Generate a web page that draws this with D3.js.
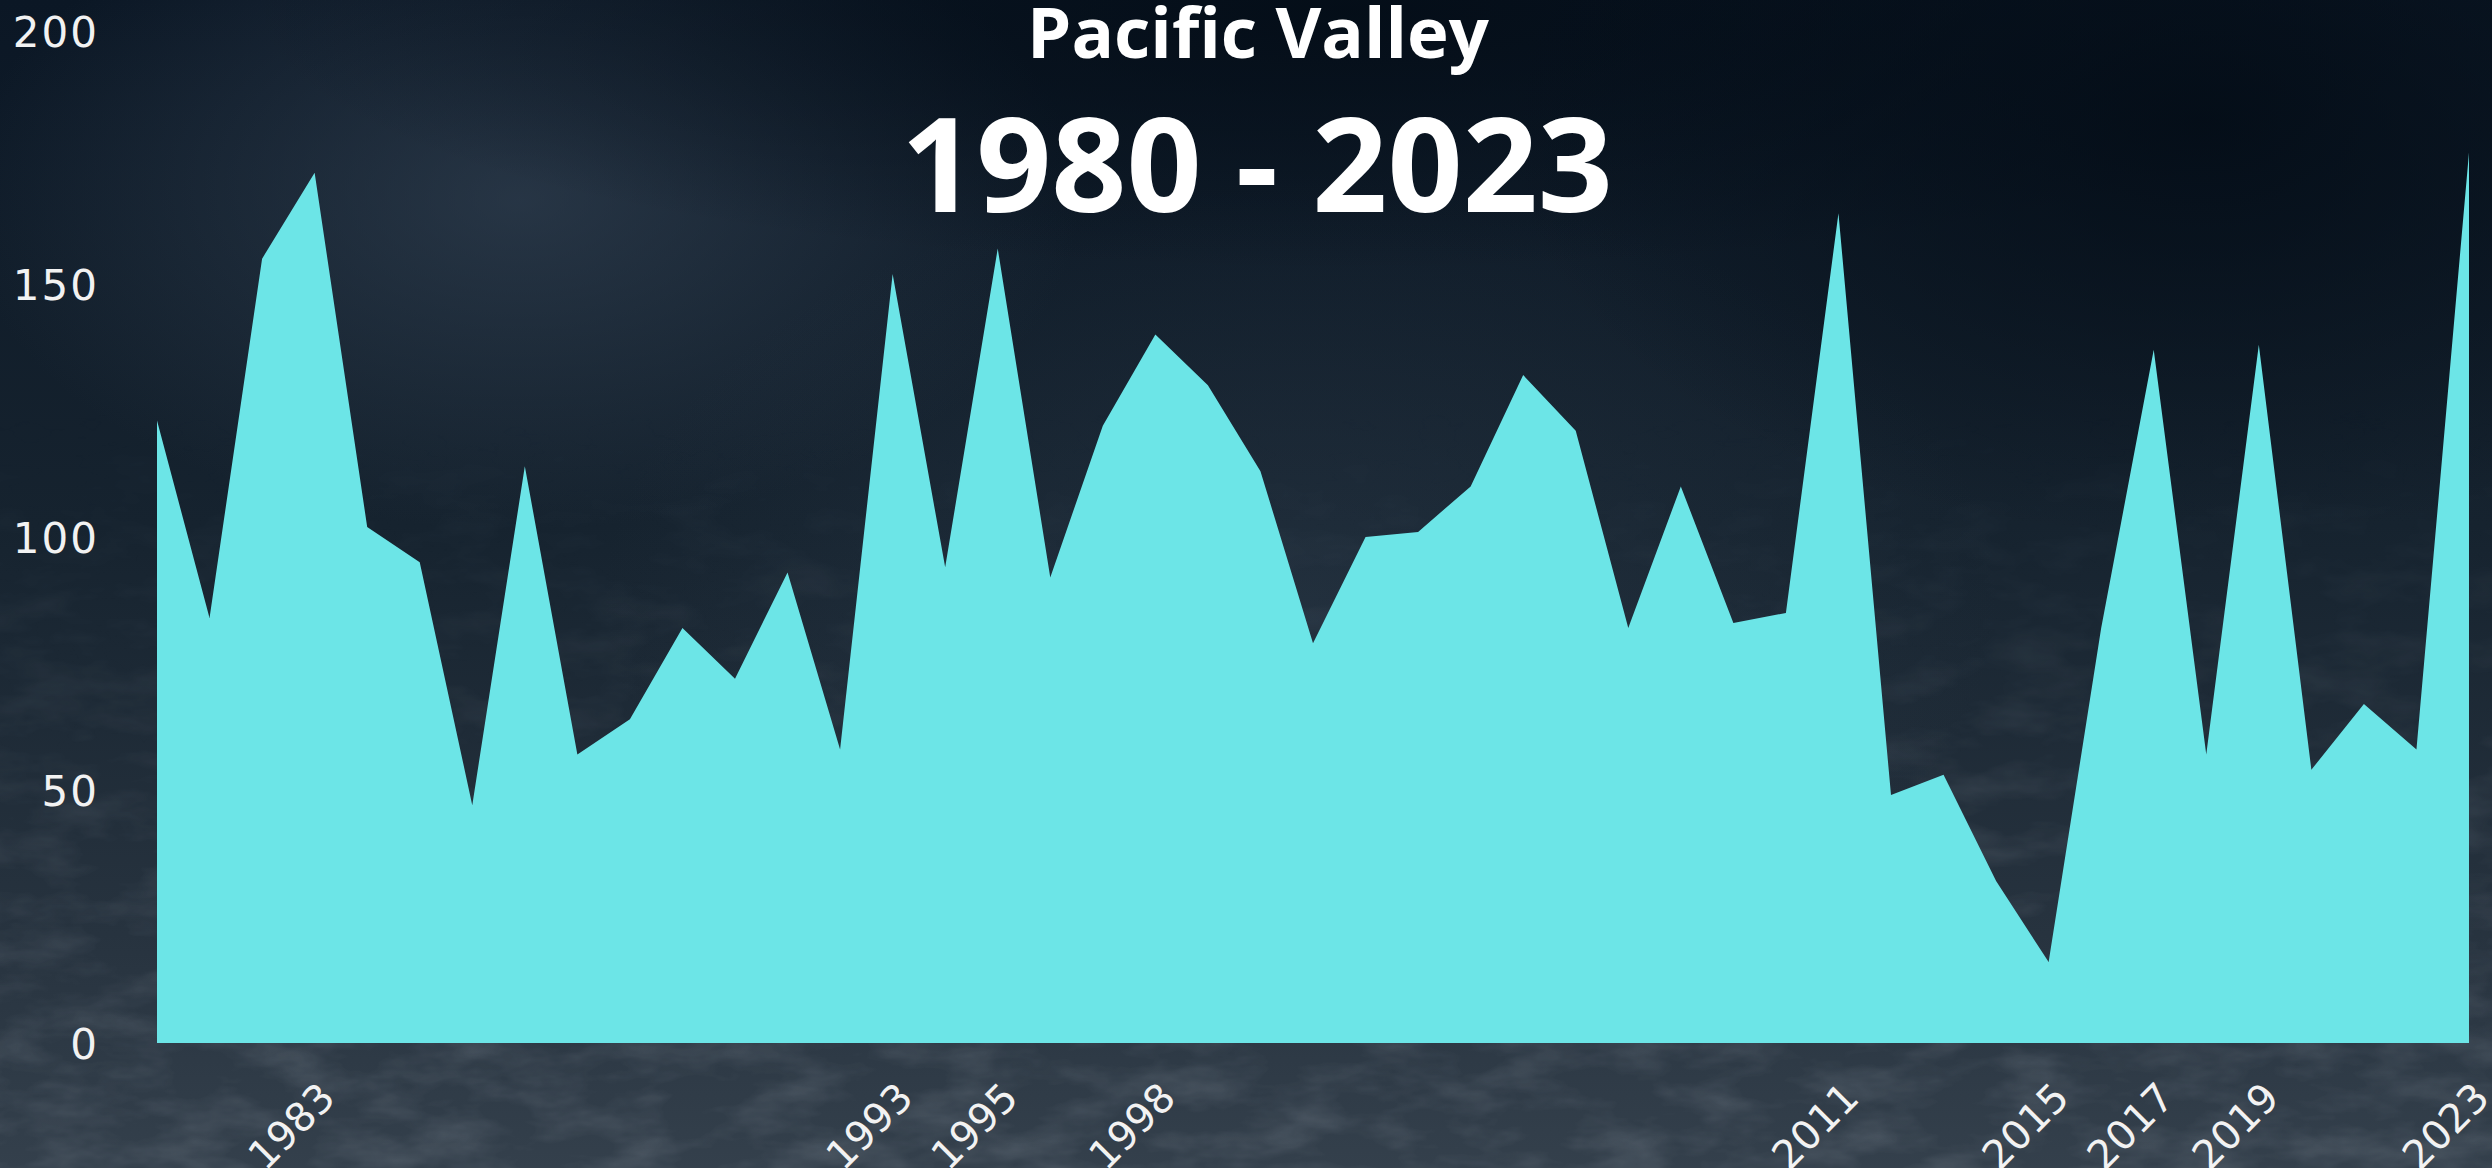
<!DOCTYPE html>
<html>
<head>
<meta charset="utf-8">
<script src="https://cdn.jsdelivr.net/npm/d3@7"></script>
<style>
  html, body { margin: 0; padding: 0; background: #111d2a; overflow: hidden; }
  svg { display: block; }
</style>
</head>
<body>
<svg id="chart" width="2492" height="1168"></svg>
<script>
// ---- data ----
const years = [1980, 1981, 1982, 1983, 1983, 1984, 1985, 1986, 1987, 1988,
               1989, 1990, 1991, 1992, 1993, 1994, 1995, 1996, 1997, 1998,
               1999, 2000, 2001, 2002, 2003, 2004, 2005, 2006, 2007, 2008,
               2009, 2010, 2011, 2012, 2013, 2014, 2015, 2016, 2017, 2018,
               2019, 2020, 2021, 2022, 2023];
const snowfall = [123, 84, 155, 172, 102, 95, 47, 114, 57, 64,
                  82, 72, 93, 58, 152, 94, 157, 92, 122, 140,
                  130, 113, 79, 100, 101, 110, 132, 121, 82, 110,
                  83, 85, 164, 49, 53, 32, 16, 82, 137, 57,
                  138, 54, 67, 58, 176];
const shownYears = [1983, 1993, 1995, 1998, 2011, 2015, 2017, 2019, 2023];
const yTicks = [0, 50, 100, 150, 200];
const titleText = "Pacific Valley";
const subtitleText = "1980 - 2023";

// ---- layout ----
const W = 2492, H = 1168;
const plot = { left: 157, right: 2469, top: 31, bottom: 1043 };
const svg = d3.select("#chart");
const defs = svg.append("defs");

// background: dark night-sky photo look
const bg = defs.append("linearGradient").attr("id", "bgGrad")
  .attr("x1", 0).attr("y1", 0).attr("x2", 0).attr("y2", 1);
bg.append("stop").attr("offset", "0%").attr("stop-color", "#0b1725");
bg.append("stop").attr("offset", "45%").attr("stop-color", "#16232f");
bg.append("stop").attr("offset", "80%").attr("stop-color", "#27333f");
bg.append("stop").attr("offset", "100%").attr("stop-color", "#34404c");

const haze = defs.append("radialGradient").attr("id", "haze")
  .attr("cx", 0.5).attr("cy", 0.5).attr("r", 0.5);
haze.append("stop").attr("offset", "0%").attr("stop-color", "#3a4a5c").attr("stop-opacity", 0.55);
haze.append("stop").attr("offset", "100%").attr("stop-color", "#3a4a5c").attr("stop-opacity", 0);

const dark = defs.append("radialGradient").attr("id", "darkTop")
  .attr("cx", 0.5).attr("cy", 0.5).attr("r", 0.5);
dark.append("stop").attr("offset", "0%").attr("stop-color", "#030c16").attr("stop-opacity", 0.85);
dark.append("stop").attr("offset", "100%").attr("stop-color", "#030c16").attr("stop-opacity", 0);

const noise = defs.append("filter").attr("id", "noise")
  .attr("x", 0).attr("y", 0).attr("width", "100%").attr("height", "100%");
noise.append("feTurbulence").attr("type", "fractalNoise")
  .attr("baseFrequency", "0.012 0.03").attr("numOctaves", 4).attr("seed", 7);
noise.append("feColorMatrix").attr("type", "matrix")
  .attr("values", "0 0 0 0 0.75  0 0 0 0 0.8  0 0 0 0 0.88  0 0 0 1.4 -0.55");

const fade = defs.append("linearGradient").attr("id", "fadeGrad")
  .attr("x1", 0).attr("y1", 0).attr("x2", 0).attr("y2", 1);
fade.append("stop").attr("offset", "0%").attr("stop-color", "#fff").attr("stop-opacity", 0);
fade.append("stop").attr("offset", "55%").attr("stop-color", "#fff").attr("stop-opacity", 0.6);
fade.append("stop").attr("offset", "100%").attr("stop-color", "#fff").attr("stop-opacity", 1);
defs.append("mask").attr("id", "fadeMask")
  .attr("maskUnits", "userSpaceOnUse").attr("x", 0).attr("y", 0).attr("width", W).attr("height", H)
  .append("rect").attr("x", 0).attr("y", 400).attr("width", W).attr("height", H - 400)
  .attr("fill", "url(#fadeGrad)");

svg.append("rect").attr("width", W).attr("height", H).attr("fill", "url(#bgGrad)");
svg.append("ellipse").attr("cx", 520).attr("cy", 200).attr("rx", 560).attr("ry", 330).attr("fill", "url(#haze)");
svg.append("ellipse").attr("cx", 1300).attr("cy", 600).attr("rx", 700).attr("ry", 420).attr("fill", "url(#haze)").attr("opacity", 0.5);
svg.append("ellipse").attr("cx", 1350).attr("cy", 10).attr("rx", 1100).attr("ry", 260).attr("fill", "url(#darkTop)");
svg.append("ellipse").attr("cx", 2200).attr("cy", 120).attr("rx", 700).attr("ry", 420).attr("fill", "url(#darkTop)");
svg.append("g").attr("mask", "url(#fadeMask)")
  .append("rect").attr("y", 400).attr("width", W).attr("height", H - 400)
  .attr("filter", "url(#noise)").attr("opacity", 0.2);

// ---- scales ----
const x = d3.scaleLinear().domain([0, years.length - 1]).range([plot.left, plot.right]);
const y = d3.scaleLinear().domain([0, 200]).range([plot.bottom, plot.top]);

// ---- area ----
const area = d3.area()
  .x((d, i) => x(i))
  .y0(y(0))
  .y1(d => y(d))
  .curve(d3.curveLinear);

svg.append("path")
  .datum(snowfall)
  .attr("d", area)
  .attr("fill", "#6ce5e7");

// ---- y axis ----
const yAxis = d3.axisLeft(y).tickValues(yTicks).tickSize(0).tickPadding(0);
const yG = svg.append("g").attr("transform", `translate(${plot.left - 58},0)`).call(yAxis);
yG.select(".domain").remove();
yG.selectAll("text")
  .attr("fill", "#f2f2f2")
  .attr("font-family", "'DejaVu Sans', sans-serif")
  .attr("font-size", 42)
  .attr("letter-spacing", 2)
  .attr("dy", "0.36em");

// ---- x axis ----
const xTickIdx = shownYears.map(v => years.indexOf(v));
const xAxis = d3.axisBottom(x).tickValues(xTickIdx).tickFormat(i => years[i]).tickSize(0);
const xG = svg.append("g").attr("transform", `translate(0,${plot.bottom})`).call(xAxis);
xG.select(".domain").remove();
xG.selectAll("text")
  .attr("fill", "#f2f2f2")
  .attr("font-family", "'DejaVu Sans', sans-serif")
  .attr("font-size", 40)
  .attr("text-anchor", "end")
  .attr("y", 0).attr("dy", 0)
  .attr("transform", "translate(22,57) rotate(-45)");

// ---- titles ----
function fitText(sel, targetWidth, baseSize) {
  sel.attr("font-size", baseSize);
  const w = sel.node().getComputedTextLength();
  sel.attr("font-size", baseSize * targetWidth / w);
}
const t1 = svg.append("text").text(titleText)
  .attr("x", 1258).attr("y", 58)
  .attr("text-anchor", "middle")
  .attr("fill", "#ffffff")
  .attr("font-family", "'Open Sans', sans-serif")
  .attr("font-weight", 700);
fitText(t1, 462, 66);

const t2 = svg.append("text").text(subtitleText)
  .attr("x", 1257).attr("y", 212)
  .attr("text-anchor", "middle")
  .attr("fill", "#ffffff")
  .attr("font-family", "'Open Sans', sans-serif")
  .attr("font-weight", 700);
fitText(t2, 712, 130);
</script>
</body>
</html>
